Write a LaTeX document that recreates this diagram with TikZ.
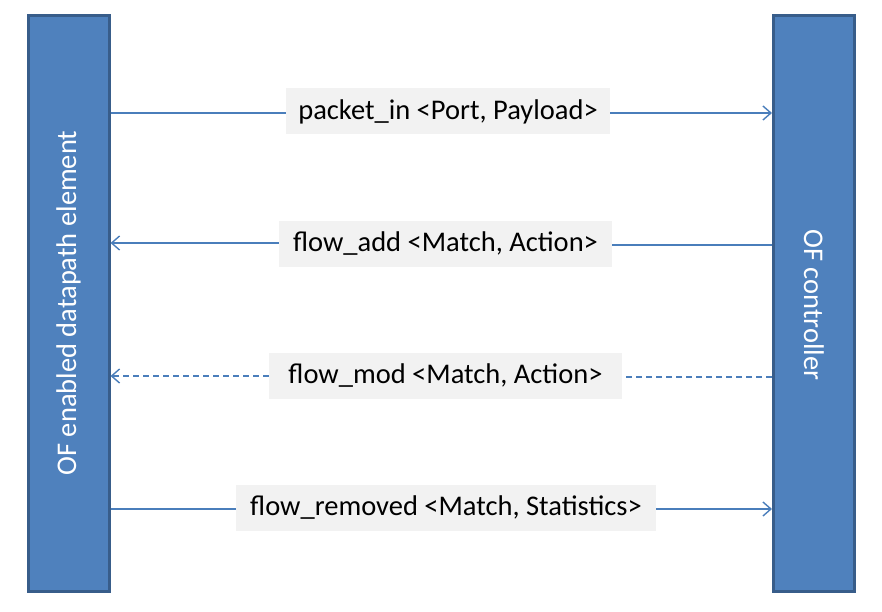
\documentclass[tikz,border=0pt]{standalone}
\usepackage{fontspec}
\setmainfont{Carlito}
\usepackage{tikz}
\usetikzlibrary{arrows.meta}

\definecolor{barfill}{HTML}{4F81BD}
\definecolor{barline}{HTML}{385D8A}
\definecolor{msgline}{HTML}{4A7EBB}
\definecolor{lblfill}{HTML}{F2F2F2}

\tikzset{
  bar/.style={draw=barline, line width=3pt, fill=barfill, minimum width=81pt, minimum height=576pt, inner sep=0pt},
  bartext/.style={text=white, font=\fontsize{28.5}{32}\selectfont},
  msg/.style={fill=lblfill, inner sep=0pt, minimum height=46pt, font=\fontsize{28.5}{32}\selectfont},
  wire/.style={draw=msgline, line width=1.4pt},
  tip/.style={-{Straight Barb[length=8pt,width=14pt,line width=1.4pt]}}
}

\begin{document}
\begin{tikzpicture}[x=1pt, y=-1pt]
\useasboundingbox (0,0) rectangle (882,612);

\node[bar, anchor=center] (dp) at (68.5,303.5) {};
\node[bar, anchor=center] (ctl) at (814,303.5) {};
\node[bartext, rotate=90, anchor=center] (dptxt) at (68.5,303) {OF enabled datapath element};
\node[bartext, rotate=-90, anchor=center] (ctltxt) at (814,305) {OF controller};

\node[msg, minimum width=324pt, anchor=center] (pin) at (448,111.5) {packet\_in <Port, Payload>};
\node[msg, minimum width=333pt, anchor=center] (fadd) at (445.5,243.5) {flow\_add <Match, Action>};
\node[msg, minimum width=353pt, anchor=center] (fmod) at (445.5,375.5) {flow\_mod <Match, Action>};
\node[msg, minimum width=420pt, anchor=center] (frem) at (446,508) {flow\_removed <Match, Statistics>};

% datapath -> controller
\draw[wire] (dp.east |- 0,113) -- (pin.west |- 0,113);
\draw[wire, tip] (pin.east |- 0,113) -- (ctl.west |- 0,113);

% controller -> datapath
\draw[wire] (ctl.west |- 0,245) -- (fadd.east |- 0,245);
\draw[wire, tip] (fadd.west |- 0,243) -- (dp.east |- 0,243);

\draw[wire, dash pattern=on 6pt off 4pt] (ctl.west |- 0,377) -- (fmod.east |- 0,377);
\draw[wire, tip, dash pattern=on 6pt off 4pt] (fmod.west |- 0,376) -- (dp.east |- 0,376);

\draw[wire] (dp.east |- 0,509) -- (frem.west |- 0,509);
\draw[wire, tip] (frem.east |- 0,509) -- (ctl.west |- 0,509);
\end{tikzpicture}
\end{document}
